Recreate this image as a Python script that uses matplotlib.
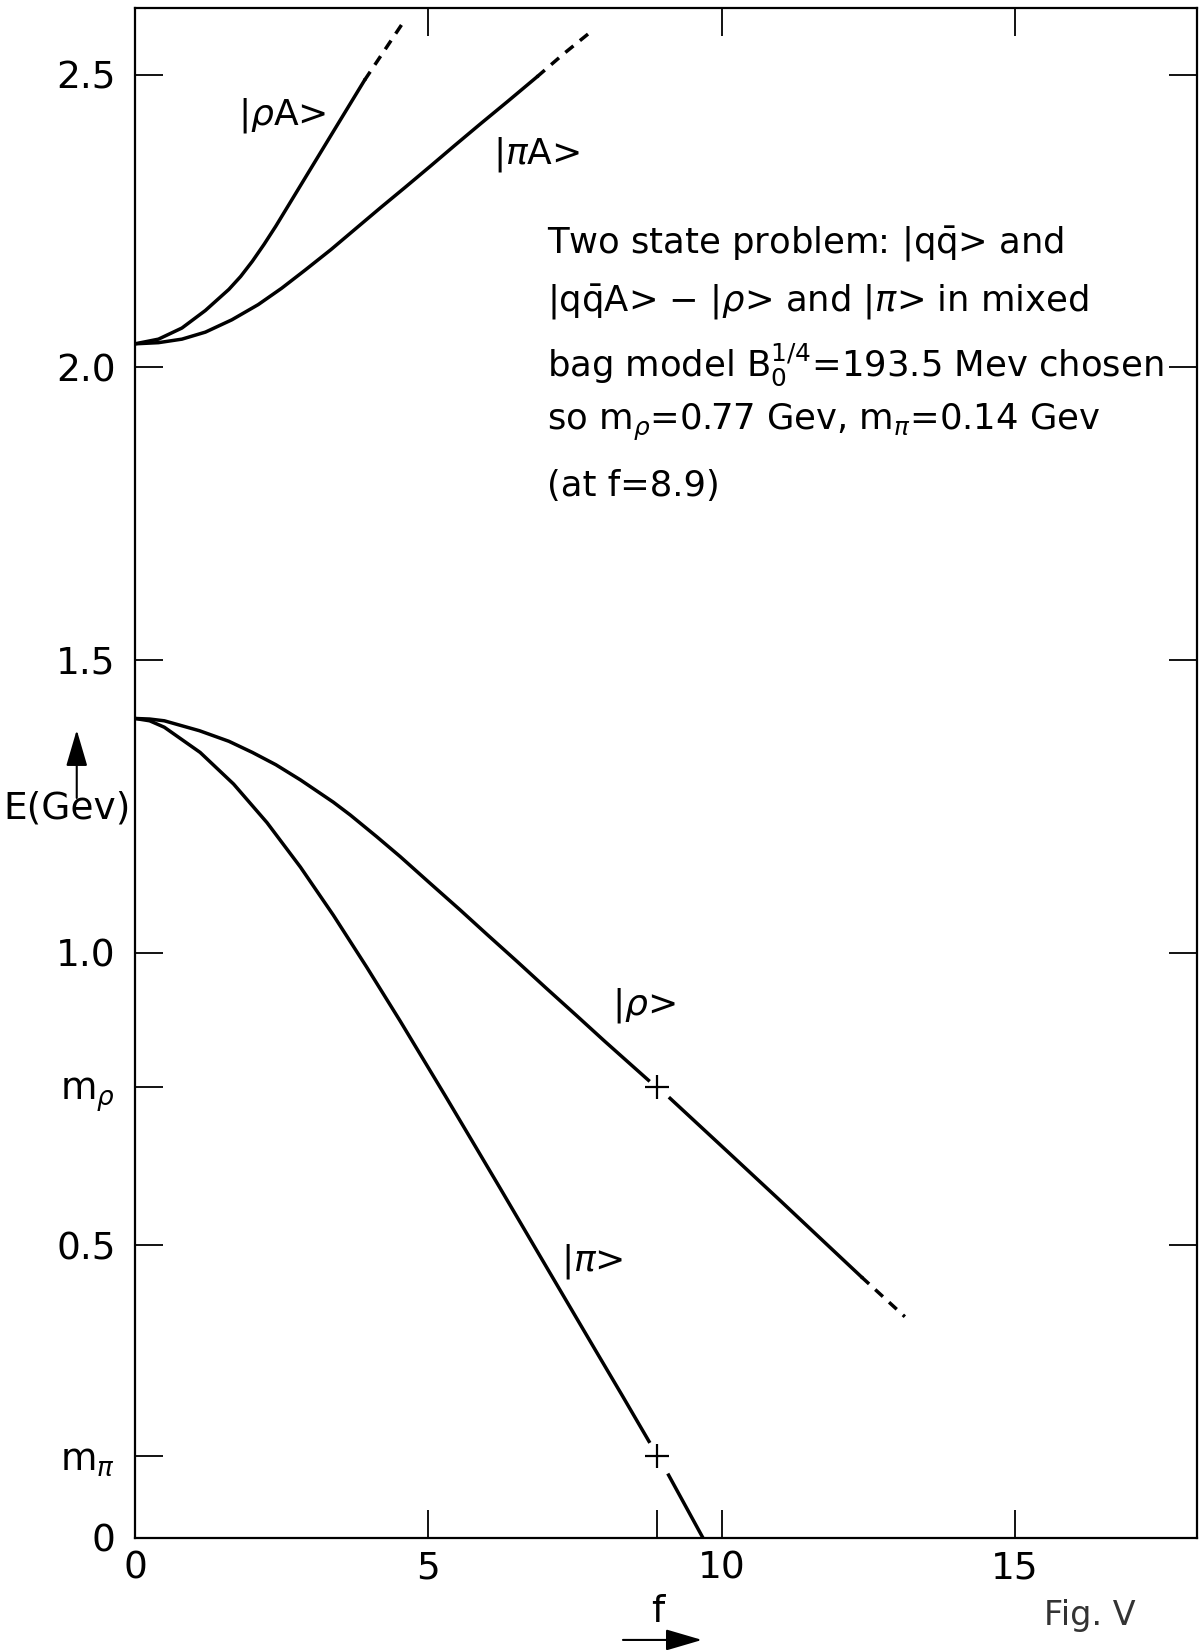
import numpy as np
import matplotlib
matplotlib.use("Agg")
import matplotlib.pyplot as plt

plt.rcParams['font.family'] = ['DejaVu Sans']
plt.rcParams['mathtext.fontset'] = 'dejavusans'

# |rho A> and |pi A> branches (upper pair), solid part then dashed extension
f_rhoA = [0, 0.4, 0.8, 1.2, 1.6, 1.8, 2.0, 2.2, 2.4, 2.6, 3.0, 3.4, 3.91]
E_rhoA = [2.040, 2.048, 2.067, 2.097, 2.133, 2.155, 2.181, 2.210, 2.241,
          2.274, 2.340, 2.406, 2.490]
f_rhoA_ext = [3.91, 4.25, 4.59]
E_rhoA_ext = [2.490, 2.541, 2.592]

f_piA = [0, 0.4, 0.8, 1.2, 1.65, 2.1, 2.5, 2.9, 3.34, 3.8, 4.19, 4.6, 5.04,
         5.45, 5.89, 6.35, 6.85]
E_piA = [2.040, 2.042, 2.048, 2.060, 2.081, 2.107, 2.135, 2.166, 2.201, 2.240,
         2.273, 2.307, 2.344, 2.379, 2.416, 2.454, 2.496]
f_piA_ext = [6.85, 7.3, 7.78]
E_piA_ext = [2.496, 2.535, 2.574]

# |rho> branch (lower pair), broken around the f=8.9 mark
f_rho = [0, 0.25, 0.5, 1.1, 1.6, 2.0, 2.4, 2.82, 3.38, 3.67, 4.12, 4.52, 5.0,
         5.54, 6.0, 6.51, 7.0, 7.53, 8.0, 8.75]
E_rho = [1.400, 1.399, 1.396, 1.379, 1.361, 1.342, 1.321, 1.295, 1.257, 1.235,
         1.198, 1.164, 1.121, 1.073, 1.031, 0.985, 0.940, 0.892, 0.849, 0.782]
f_rho2 = [9.12, 10.11, 11.0, 11.7, 12.38]
E_rho2 = [0.751, 0.659, 0.576, 0.510, 0.446]
f_rho_ext = [12.38, 12.75, 13.12]
E_rho_ext = [0.446, 0.412, 0.378]

# |pi> branch
f_pi = [0, 0.25, 0.5, 1.11, 1.68, 2.25, 2.82, 3.38, 3.95, 4.52, 5.29, 5.80,
        6.22, 7.0, 7.84, 8.3, 8.76]
E_pi = [1.400, 1.396, 1.385, 1.342, 1.288, 1.222, 1.146, 1.064, 0.975, 0.883,
        0.755, 0.669, 0.598, 0.465, 0.322, 0.244, 0.165]
f_pi2 = [9.08, 9.68]
E_pi2 = [0.110, 0.0]

# physical masses fixed at f = 8.9
f_fit = 8.9
m_rho = 0.77
m_pi = 0.14

ytick_major = [0, 0.5, 1.0, 1.5, 2.0, 2.5]
ytick_major_labels = ['0', '0.5', '1.0', '1.5', '2.0', '2.5']
ytick_minor = [m_pi, m_rho]
ytick_minor_labels = [r'm$_\pi$', r'm$_\rho$']
xtick_major = [0, 5, 10, 15]
xtick_labels = ['0', '5', '10', '15']

note_lines = [
    r'Two state problem: |q$\bar{\mathrm{q}}$> and',
    r'|q$\bar{\mathrm{q}}$A> $-$ |$\rho$> and |$\pi$> in mixed',
    r'bag model B$_0^{1/4}$=193.5 Mev chosen',
    r'so m$_\rho$=0.77 Gev, m$_\pi$=0.14 Gev',
    '(at f=8.9)',
]
note_y = [2.210, 2.110, 2.005, 1.905, 1.797]

fig = plt.figure(figsize=(12.01, 16.5), dpi=100)
ax = fig.add_axes([0.1124, 0.0679, 0.8843, 0.9270])

lw = 2.5
dash = (0, (3.0, 2.4))
ax.plot(f_rhoA, E_rhoA, color='k', lw=lw)
ax.plot(f_rhoA_ext, E_rhoA_ext, color='k', lw=lw, ls=dash)
ax.plot(f_piA, E_piA, color='k', lw=lw)
ax.plot(f_piA_ext, E_piA_ext, color='k', lw=lw, ls=dash)
ax.plot(f_rho, E_rho, color='k', lw=lw)
ax.plot(f_rho2, E_rho2, color='k', lw=lw)
ax.plot(f_rho_ext, E_rho_ext, color='k', lw=lw, ls=dash)
ax.plot(f_pi, E_pi, color='k', lw=lw)
ax.plot(f_pi2, E_pi2, color='k', lw=lw, solid_capstyle='butt')
ax.plot([f_fit, f_fit], [m_rho, m_pi], ls='none', marker='+', ms=17, mew=1.6,
        color='k')

ax.set_xlim(0, 18.1)
ax.set_ylim(0, 2.613)

ax.set_xticks(xtick_major)
ax.set_xticklabels(xtick_labels)
ax.set_xticks([f_fit], minor=True)
ax.set_yticks(ytick_major)
ax.set_yticklabels(ytick_major_labels)
ax.set_yticks(ytick_minor, minor=True)
ax.set_yticklabels(ytick_minor_labels, minor=True)

ax.tick_params(which='both', direction='in', length=20, width=1.3,
               labelsize=27, colors='k')
ax.tick_params(axis='y', which='both', pad=14)
ax.tick_params(axis='x', which='both', pad=9)
ax.tick_params(which='major', top=True, right=True)
ax.tick_params(which='minor', top=False, right=False)
ax.tick_params(axis='x', which='minor', labelbottom=False)
for s in ax.spines.values():
    s.set_linewidth(1.6)

# state labels
fs = 26
ax.text(2.51, 2.43, r'|$\rho$A>', fontsize=fs, ha='center', va='center')
ax.text(6.85, 2.363, r'|$\pi$A>', fontsize=fs, ha='center', va='center')
ax.text(8.67, 0.91, r'|$\rho$>', fontsize=fs, ha='center', va='center')
ax.text(7.8, 0.473, r'|$\pi$>', fontsize=fs, ha='center', va='center')

for line, y in zip(note_lines, note_y):
    ax.text(7.02, y, line, fontsize=25.5, ha='left', va='center')

# axis names with arrows
fig.text(0.0562, 0.5100, 'E(Gev)', fontsize=27, ha='center', va='center')
fig.add_artist(matplotlib.patches.FancyArrowPatch(
    (0.0639, 0.5164), (0.0639, 0.5576), transform=fig.transFigure,
    arrowstyle='-|>,head_length=0.75,head_width=0.22', mutation_scale=30,
    lw=1.5, color='k', shrinkA=0, shrinkB=0))

fig.text(0.5479, 0.0230, 'f', fontsize=27, ha='center', va='center')
fig.add_artist(matplotlib.patches.FancyArrowPatch(
    (0.5187, 0.0061), (0.5845, 0.0061), transform=fig.transFigure,
    arrowstyle='-|>,head_length=0.75,head_width=0.22', mutation_scale=30,
    lw=1.5, color='k', shrinkA=0, shrinkB=0))

fig.text(0.9076, 0.0212, 'Fig. V', fontsize=24, ha='center', va='center',
         color='#333333')

fig.savefig('out.png', dpi=100)
